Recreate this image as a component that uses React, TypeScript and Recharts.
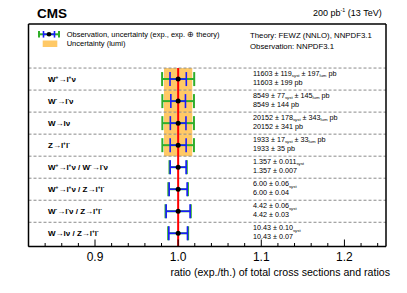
import React from 'react'
import {
  ScatterChart,
  Scatter,
  XAxis,
  YAxis,
  ErrorBar,
  ReferenceLine,
  ReferenceArea,
} from 'recharts'

const FONT = '"Liberation Sans", Arial, Helvetica, sans-serif'

// rows from top to bottom
const channels = [
  'W^{+}→l^{+}ν',
  'W^{-}→l^{-}ν',
  'W→lν',
  'Z→l^{+}l^{-}',
  'W^{+}→l^{+}ν / W^{-}→l^{-}ν',
  'W^{+}→l^{+}ν / Z→l^{+}l^{-}',
  'W^{-}→l^{-}ν / Z→l^{+}l^{-}',
  'W→lν / Z→l^{+}l^{-}',
]
const rowPos = [7, 6, 5, 4, 3, 2, 1, 0]
const ratio = [1, 1, 1, 1, 1, 1, 1, 1]
const expUnc = [0.0098, 0.0088, 0.0094, 0.0096, 0.0096, 0.0108, 0.0144, 0.0112]
const totUnc = [0.0193, 0.019, 0.019, 0.019, 0.0104, 0.0118, 0.0152, 0.012]
const lumiUnc = [0.017, 0.017, 0.017, 0.017]
const valueLine1 = [
  '11603 ± 119_{syst} ± 197_{lum} pb',
  '8549 ± 77_{syst} ± 145_{lum} pb',
  '20152 ± 178_{syst} ± 343_{lum} pb',
  '1933 ± 17_{syst} ± 33_{lum} pb',
  '1.357 ± 0.011_{syst}',
  '6.00 ± 0.06_{syst}',
  '4.42 ± 0.06_{syst}',
  '10.43 ± 0.10_{syst}',
]
const valueLine2 = [
  '11603 ± 199 pb',
  '8549 ± 144 pb',
  '20152 ± 341 pb',
  '1933 ± 35 pb',
  '1.357 ± 0.007',
  '6.00 ± 0.04',
  '4.42 ± 0.03',
  '10.43 ± 0.07',
]
const xTicks = [
  0.82, 0.84, 0.86, 0.88, 0.9, 0.92, 0.94, 0.96, 0.98, 1.0, 1.02, 1.04, 1.06,
  1.08, 1.1, 1.12, 1.14, 1.16, 1.18, 1.2, 1.22, 1.24,
]
const xMajor = [0.9, 1.0, 1.1, 1.2]

const rows = channels.map((name, i) => ({
  name,
  x: ratio[i],
  y: rowPos[i],
  errTot: totUnc[i],
  errExp: expUnc[i],
}))

const GREEN = '#2fae2a'
const BLUE = '#1a1aff'
const ORANGE = '#ffc966'
const LEFT = 20.5
const TOP = 16

// tiny ROOT-latex-ish parser: ^{..} and _{..}
function texParts(s: string) {
  const out: { t: string; m: 'n' | 'sup' | 'sub' }[] = []
  let i = 0
  let buf = ''
  while (i < s.length) {
    if ((s[i] === '^' || s[i] === '_') && s[i + 1] === '{') {
      if (buf) out.push({ t: buf, m: 'n' })
      buf = ''
      const end = s.indexOf('}', i)
      out.push({ t: s.slice(i + 2, end), m: s[i] === '^' ? 'sup' : 'sub' })
      i = end + 1
    } else {
      buf += s[i]
      i++
    }
  }
  if (buf) out.push({ t: buf, m: 'n' })
  return out
}

function Tex({ x, y, text, size, bold, anchor }: any) {
  const parts = texParts(text)
  let shift = 0
  return (
    <text
      x={x}
      y={y}
      fontSize={size}
      fontFamily={FONT}
      fontWeight={bold ? 'bold' : 'normal'}
      textAnchor={anchor || 'start'}
      fill='#000'
    >
      {parts.map((p, k) => {
        const target = p.m === 'sup' ? -size * 0.4 : p.m === 'sub' ? size * 0.15 : 0
        const dy = target - shift
        shift = target
        return (
          <tspan key={k} dy={dy} fontSize={p.m === 'n' ? size : size * 0.6}>
            {p.t}
          </tspan>
        )
      })}
    </text>
  )
}

const RowTick = (props: any) => {
  const { y, payload } = props
  const i = rowPos.indexOf(payload.value)
  if (i < 0) return null
  return (
    <g>
      <Tex x={40} y={y + 3} text={channels[i]} size={8} bold />
      <Tex x={245} y={y - 2.8} text={valueLine1[i]} size={7.2} />
      <Tex x={245} y={y + 5.6} text={valueLine2[i]} size={7.2} />
    </g>
  )
}

const isMajor = (v: number) => xMajor.some((m) => Math.abs(m - v) < 1e-6)

const BottomTick = (props: any) => {
  const { x, payload } = props
  const y = 238.5
  const major = isMajor(payload.value)
  return (
    <g>
      <line x1={x} y1={y} x2={x} y2={y - (major ? 7 : 3.5)} stroke='#000' strokeWidth={1} />
      {major && (
        <text x={x} y={y + 14} textAnchor='middle' fontSize={12} fontFamily={FONT} fill='#000'>
          {payload.value.toFixed(1)}
        </text>
      )}
    </g>
  )
}

const TopTick = (props: any) => {
  const { x, payload } = props
  const major = isMajor(payload.value)
  return <line x1={x} y1={TOP} x2={x} y2={TOP + (major ? 7 : 3.5)} stroke='#000' strokeWidth={1} />
}

const Dot = (props: any) => <circle cx={props.cx} cy={props.cy} r={2.5} fill='#000' />

export default function App() {
  return (
    <div style={{ position: 'relative', width: 391, height: 277 }}>
      <ScatterChart
        width={391}
        height={277}
        margin={{ top: TOP - 1, right: 12, bottom: 8.5, left: LEFT - 1 }}
      >
        <XAxis
          type='number'
          dataKey='x'
          domain={[0.82, 1.25]}
          ticks={xTicks}
          interval={0}
          height={30}
          tickLine={false}
          tick={<BottomTick />}
          axisLine={{ stroke: '#000', strokeWidth: 1.5 }}
        />
        <XAxis
          xAxisId='top'
          orientation='top'
          type='number'
          domain={[0.82, 1.25]}
          ticks={xTicks}
          interval={0}
          height={1}
          tickLine={false}
          tick={<TopTick />}
          axisLine={{ stroke: '#000', strokeWidth: 1.5 }}
        />
        <YAxis
          type='number'
          dataKey='y'
          domain={[-0.6, 9.5]}
          ticks={rowPos}
          interval={0}
          width={1}
          tickLine={false}
          tick={<RowTick />}
          axisLine={{ stroke: '#000', strokeWidth: 1.5 }}
        />
        <YAxis
          yAxisId='r'
          orientation='right'
          type='number'
          domain={[-0.6, 9.5]}
          width={1}
          tick={false}
          tickLine={false}
          axisLine={{ stroke: '#000', strokeWidth: 1.5 }}
        />
        {lumiUnc.map((u, i) => (
          <ReferenceArea
            key={`lumi-${i}`}
            x1={ratio[i] - u}
            x2={ratio[i] + u}
            y1={rowPos[i] - 0.5}
            y2={rowPos[i] + 0.5}
            fill={ORANGE}
            fillOpacity={1}
            stroke='none'
          />
        ))}
        {rowPos.map((r) => (
          <ReferenceLine
            key={`sep-${r}`}
            y={r + 0.5}
            stroke='#8a8a8a'
            strokeDasharray='3 2'
            strokeWidth={1}
          />
        ))}
        <ReferenceLine
          segment={[
            { x: 1, y: -0.6 },
            { x: 1, y: 7.5 },
          ]}
          stroke='#ff0000'
          strokeWidth={2}
        />
        <Scatter data={rows} isAnimationActive={false} shape={<Dot />}>
          <ErrorBar dataKey='errTot' direction='x' width={7} stroke={GREEN} strokeWidth={2} />
          <ErrorBar dataKey='errExp' direction='x' width={7} stroke={BLUE} strokeWidth={1.6} />
        </Scatter>
      </ScatterChart>
      <svg
        width={391}
        height={277}
        style={{ position: 'absolute', left: 0, top: 0, pointerEvents: 'none' }}
      >
        <text x={29} y={10} fontSize={13.5} fontWeight='bold' fontFamily={FONT}>
          CMS
        </text>
        <Tex x={373.7} y={8} text='200 pb^{-1} (13 TeV)' size={9} anchor='end' />
        {/* legend */}
        <line x1={30} y1={26.3} x2={52} y2={26.3} stroke={GREEN} strokeWidth={2} />
        <line x1={31} y1={23} x2={31} y2={29.6} stroke={GREEN} strokeWidth={2} />
        <line x1={51} y1={23} x2={51} y2={29.6} stroke={GREEN} strokeWidth={2} />
        <line x1={35.5} y1={26.3} x2={46.5} y2={26.3} stroke={BLUE} strokeWidth={1.6} />
        <line x1={35.5} y1={23} x2={35.5} y2={29.6} stroke={BLUE} strokeWidth={1.6} />
        <line x1={46.5} y1={23} x2={46.5} y2={29.6} stroke={BLUE} strokeWidth={1.6} />
        <circle cx={41} cy={26.3} r={2.3} fill='#000' />
        <text x={58.7} y={28.9} fontSize={7.5} fontFamily={FONT}>
          Observation, uncertainty (exp., exp. ⊕ theory)
        </text>
        <rect x={34.7} y={32.5} width={14.6} height={6.5} fill={ORANGE} />
        <text x={58.7} y={38.3} fontSize={7.5} fontFamily={FONT}>
          Uncertainty (lumi)
        </text>
        <text x={242} y={30.3} fontSize={7.8} fontFamily={FONT}>
          Theory: FEWZ (NNLO), NNPDF3.1
        </text>
        <text x={242} y={40.7} fontSize={7.8} fontFamily={FONT}>
          Observation: NNPDF3.1
        </text>
        <text x={382} y={267.7} fontSize={10.6} textAnchor='end' fontFamily={FONT}>
          ratio (exp./th.) of total cross sections and ratios
        </text>
      </svg>
    </div>
  )
}
